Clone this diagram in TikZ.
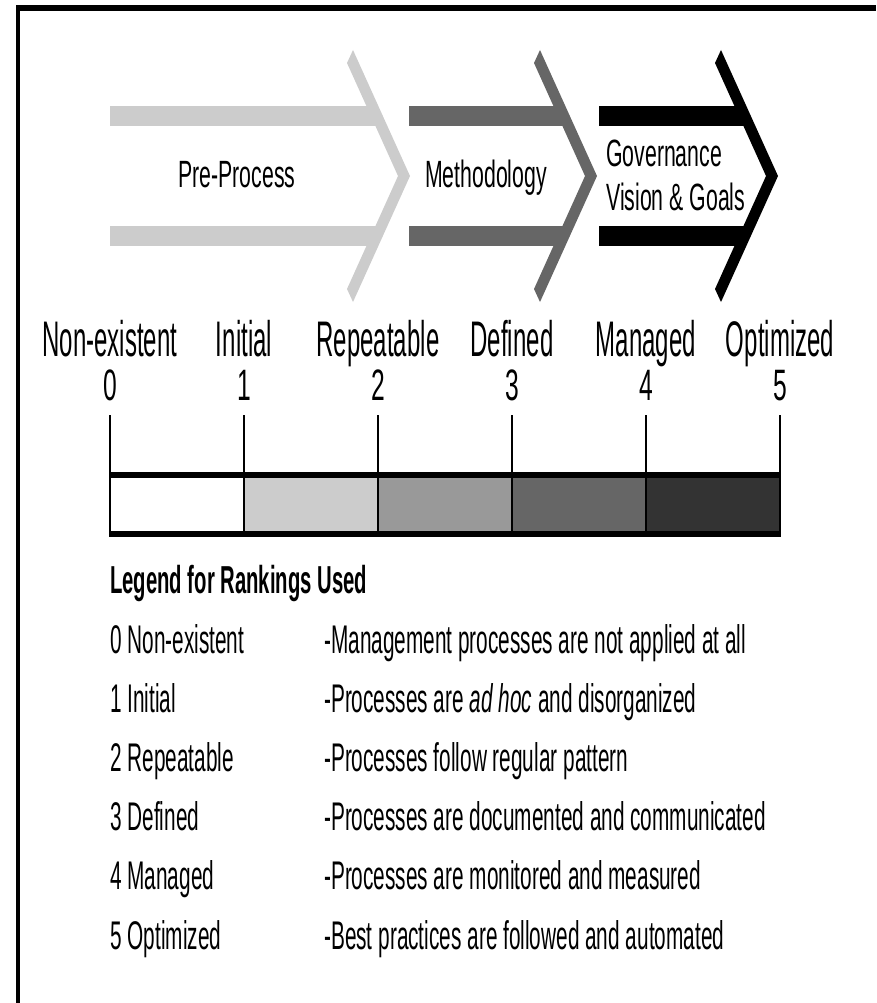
\documentclass[tikz,border=0pt]{standalone}
\usepackage{fontspec}
\setmainfont{Liberation Sans}[FakeStretch=0.56]
\newfontfamily\narrowfont{Liberation Sans}[FakeStretch=0.52]
\newfontfamily\tallfont{Liberation Sans}[FakeStretch=0.48]
\usetikzlibrary{
    positioning,
    calc}
\definecolor{lightgrey}{HTML}{CCCCCC}
\definecolor{midgrey}{HTML}{999999}
\definecolor{darkgrey}{HTML}{666666}
\definecolor{deepgrey}{HTML}{333333}
\newcommand*{\barL}{110}
\newcommand*{\tickgap}{134}
\newcommand*{\rowgap}{59.2}
\newcommand*{\chevronshape}[3]{%
    \fill[#3] (#2,106) rectangle ({#1+23},126);
    \fill[#3] (#2,226) rectangle ({#1+23},246);
    \fill[#3] (#1,50) -- ++(57,126) -- ++(-57,126) -- ++(-6,-13) -- ++(51,-113) -- ++(-51,-113) -- cycle;
}

\begin{document}
\begin{tikzpicture}[x=1pt,y=-1pt,
    every node/.style={inner sep=0pt},
    arrowtext/.style={font=\fontsize{38}{44}\selectfont},
    scaletext/.style={font=\tallfont\fontsize{50}{56}\selectfont, anchor=base},
    numtext/.style={font=\fontsize{44}{50}\selectfont, anchor=base},
    legendtext/.style={font=\narrowfont\fontsize{40}{46}\selectfont, anchor=base west},
    tick/.style={line width=2.2pt}]
    \useasboundingbox (0,0) rectangle (876,1003);
    \fill (16,5) rectangle (876,11);
    \fill (16,5) rectangle (20,1003);

    \chevronshape{353}{110}{lightgrey}
    \chevronshape{540}{409}{darkgrey}
    \chevronshape{721}{599}{black}
    \node[arrowtext] (pre) at (237,175) {Pre-Process};
    \node[arrowtext] (meth) at (486,178) {Methodology};
    \node[arrowtext, align=left, anchor=west] (gov) at (606,175) {Governance\\Vision \& Goals};

    \foreach \i/\rank in {0/Non-existent,1/Initial,2/Repeatable,3/Defined,4/Managed,5/Optimized} {
      \node[scaletext] (rank\i) at ({\barL+\tickgap*\i},356) {\rank};
      \node[numtext] (num\i) at ({\barL+\tickgap*\i},400) {\i};
    }
    \foreach \i/\shade in {0/white,1/lightgrey,2/midgrey,3/darkgrey,4/deepgrey} {
      \fill[\shade] ({\barL+\tickgap*\i},478) rectangle ++(\tickgap,53);
    }
    \fill (\barL,472) rectangle (780,478);
    \fill (\barL,531) rectangle (780,537);
    \coordinate (barfoot) at (\barL,537);
    \foreach \i in {0,...,5} {
      \draw[tick] ($(num\i.base)+(0,15)$) -- (num\i.base |- barfoot);
    }

    \node[font=\narrowfont\bfseries\fontsize{39}{44}\selectfont, anchor=base west] (legend) at (\barL,593) {Legend for Rankings Used};
    \foreach \i/\rank/\desc in {0/Non-existent/-Management processes are not applied at all,
        1/Initial/-Processes are \textit{ad hoc} and disorganized,
        2/Repeatable/-Processes follow regular pattern,
        3/Defined/-Processes are documented and communicated,
        4/Managed/-Processes are monitored and measured,
        5/Optimized/-Best practices are followed and automated} {
      \node[legendtext] (lvl\i) at (\barL,{653+\rowgap*\i}) {\i\ \rank};
      \node[legendtext] (desc\i) at (324,{653+\rowgap*\i}) {\desc};
    }
  \end{tikzpicture}
\end{document}
